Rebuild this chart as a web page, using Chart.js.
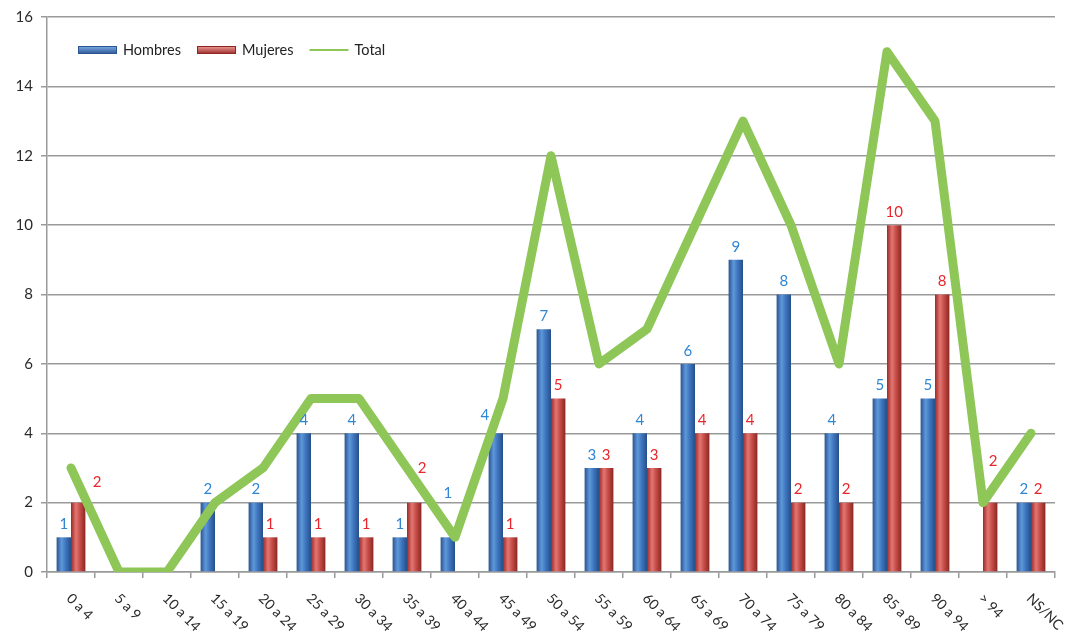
<!DOCTYPE html>
<html>
<head>
<meta charset="utf-8">
<script src="https://cdn.jsdelivr.net/npm/chart.js@4/dist/chart.umd.min.js"></script>
<style>
html,body{margin:0;padding:0;background:#fff;}
#wrap{width:1067px;height:640px;position:relative;}
</style>
</head>
<body>
<div id="wrap"><canvas id="c" width="1067" height="640"></canvas></div>
<script>
const categories = ["0 a 4","5 a 9","10 a 14","15 a 19","20 a 24","25 a 29","30 a 34","35 a 39","40 a 44","45 a 49","50 a 54","55 a 59","60 a 64","65 a 69","70 a 74","75 a 79","80 a 84","85 a 89","90 a 94","> 94","NS/NC"];
const hombres = [1,0,0,2,2,4,4,1,1,4,7,3,4,6,9,8,4,5,5,0,2];
const mujeres = [2,0,0,0,1,1,1,2,0,1,5,3,3,4,4,2,2,10,8,2,2];
const total   = [3,0,0,2,3,5,5,3,1,5,12,6,7,10,13,10,6,15,13,2,4];
const seriesNames = ["Hombres","Mujeres","Total"];

const FONT = "Lato, 'Open Sans', sans-serif";
const BLUE = '#3B6FB5', RED = '#C4443F', GREEN = '#8EC658';
const BLUE_LBL = '#2F86D4', RED_LBL = '#E8262B';
// manual label nudges (dataset-category : [dx, dy]) as in the original
const labelNudge = { '1-0': [19, -7], '1-7': [8, -21], '0-8': [0, -31], '0-9': [-11, -5], '1-19': [3, -28] };

const gradPlugin = {
  id: 'grad',
  beforeDatasetsDraw(chart) {
    const ctx = chart.ctx;
    chart.data.datasets.forEach((ds, di) => {
      const meta = chart.getDatasetMeta(di);
      if (meta.type !== 'bar') return;
      meta.data.forEach(el => {
        const l = el.x - el.width/2, r = el.x + el.width/2;
        const g = ctx.createLinearGradient(l, 0, r, 0);
        if (di === 0) {
          g.addColorStop(0, '#2A5591'); g.addColorStop(0.35, '#5F97DA');
          g.addColorStop(0.6, '#4079C2'); g.addColorStop(1, '#264F88');
        } else {
          g.addColorStop(0, '#9A2A27'); g.addColorStop(0.35, '#E47773');
          g.addColorStop(0.6, '#C9504B'); g.addColorStop(1, '#8E2623');
        }
        el.options = Object.assign({}, el.options, { backgroundColor: g });
      });
    });
  }
};

const labelPlugin = {
  id: 'vals',
  afterDatasetsDraw(chart) {
    const ctx = chart.ctx;
    ctx.save();
    ctx.font = "15px " + FONT;
    ctx.textAlign = 'center';
    ctx.textBaseline = 'middle';
    [0,1].forEach(di => {
      const meta = chart.getDatasetMeta(di);
      const vals = chart.data.datasets[di].data;
      ctx.fillStyle = di === 0 ? BLUE_LBL : RED_LBL;
      meta.data.forEach((el, i) => {
        if (!vals[i]) return;
        const n = labelNudge[di + '-' + i] || [0, 0];
        ctx.fillText(String(vals[i]), el.x + n[0], el.y - 13 + n[1]);
      });
    });
    ctx.restore();
  },
  afterDraw(chart) {
    const ctx = chart.ctx;
    const xs = chart.scales.x;
    ctx.save();
    ctx.font = "14px " + FONT;
    ctx.fillStyle = '#2a2a2a';
    ctx.textAlign = 'left';
    ctx.textBaseline = 'middle';
    chart.data.labels.forEach((lab, i) => {
      const x = xs.getPixelForValue(i);
      ctx.save();
      ctx.translate(x - 2, xs.top + 24);
      ctx.rotate(Math.PI / 4);
      ctx.fillText(lab, 0, 0);
      ctx.restore();
    });
    // legend
    const ly = 50;
    let lx = 78;
    ctx.font = "14.5px " + FONT;
    ctx.textBaseline = 'middle';
    chart.data.datasets.forEach((ds, di) => {
      if (di < 2) {
        const g = ctx.createLinearGradient(0, ly - 4, 0, ly + 4);
        if (di === 0) { g.addColorStop(0, '#7FB0E8'); g.addColorStop(1, '#2A5591'); }
        else { g.addColorStop(0, '#F0A09C'); g.addColorStop(1, '#9A2A27'); }
        ctx.fillStyle = g;
        ctx.fillRect(lx, ly - 4, 39, 8);
        ctx.strokeStyle = di === 0 ? '#2A5591' : '#8E2623';
        ctx.lineWidth = 1;
        ctx.strokeRect(lx + 0.5, ly - 3.5, 38, 7);
      } else {
        ctx.strokeStyle = GREEN;
        ctx.lineWidth = 2;
        ctx.beginPath(); ctx.moveTo(lx, ly); ctx.lineTo(lx + 39, ly); ctx.stroke();
      }
      ctx.fillStyle = '#222';
      ctx.fillText(ds.label, lx + 45, ly);
      lx += 45 + ctx.measureText(ds.label).width + 16;
    });
    ctx.restore();
  }
};

new Chart(document.getElementById('c'), {
  data: {
    labels: categories,
    datasets: [
      { type: 'bar', label: seriesNames[0], data: hombres, backgroundColor: () => BLUE, borderWidth: 0, order: 2,
        categoryPercentage: 0.6, barPercentage: 1.0 },
      { type: 'bar', label: seriesNames[1], data: mujeres, backgroundColor: () => RED, borderWidth: 0, order: 2,
        categoryPercentage: 0.6, barPercentage: 1.0 },
      { type: 'line', label: seriesNames[2], data: total, borderColor: GREEN, borderWidth: 9,
        pointRadius: 0, tension: 0, fill: false, order: 0, borderJoinStyle: 'round', borderCapStyle: 'round' }
    ]
  },
  options: {
    responsive: false,
    animation: false,
    devicePixelRatio: 1,
    layout: { padding: { top: 17, right: 12, left: 0, bottom: 0 } },
    plugins: { legend: { display: false }, tooltip: { enabled: false } },
    scales: {
      x: {
        offset: true,
        grid: { offset: true, drawOnChartArea: false, drawTicks: true, tickLength: 6, color: '#9a9a9a', lineWidth: 1.5 },
        border: { display: true, color: '#9a9a9a', width: 1.5 },
        ticks: { display: false },
        afterFit(s) { s.height = 68; }
      },
      y: {
        min: 0, max: 16,
        ticks: { stepSize: 2, color: '#2a2a2a', font: { size: 15, family: FONT }, padding: 8 },
        grid: { color: '#9a9a9a', lineWidth: 1.5, drawTicks: true, tickLength: 6 },
        border: { display: true, color: '#9a9a9a', width: 1.5 },
        afterFit(s) { s.width = 47; }
      }
    }
  },
  plugins: [gradPlugin, labelPlugin]
});
</script>
</body>
</html>
